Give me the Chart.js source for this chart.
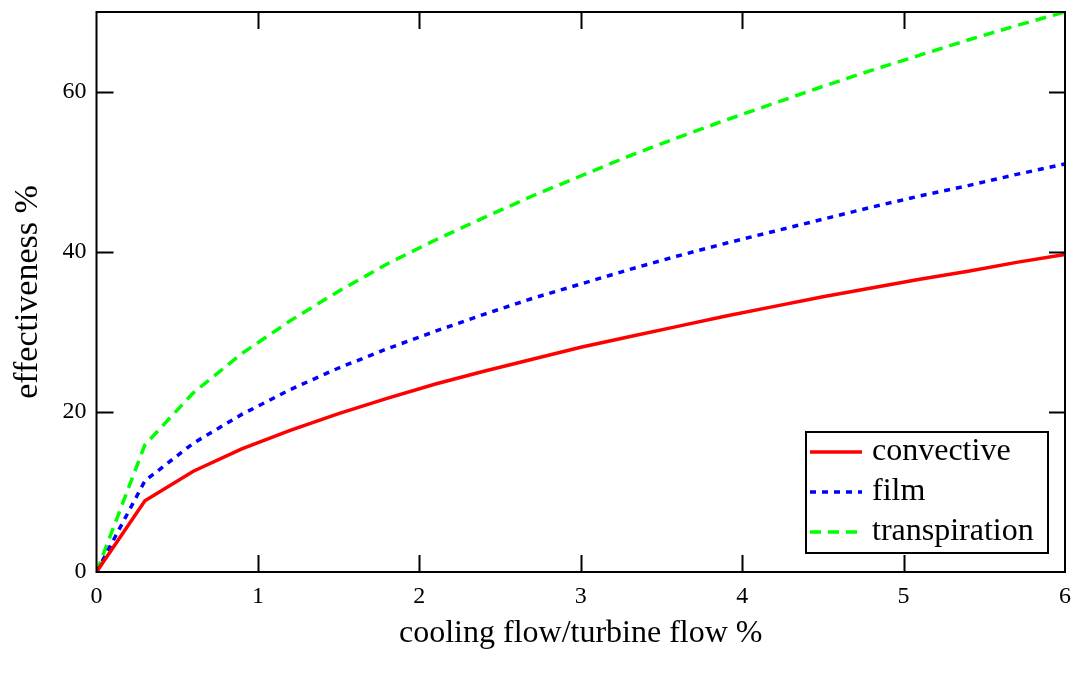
<!DOCTYPE html>
<html>
<head>
<meta charset="utf-8">
<script src="https://cdn.jsdelivr.net/npm/chart.js@4"></script>
<style>
  html, body { margin: 0; padding: 0; background: #fff; }
  #wrap { width: 1078px; height: 675px; }
</style>
</head>
<body>
<div id="wrap"><canvas id="mainChart" width="1078" height="675"></canvas></div>
<script>
// cooling flow / turbine flow %
let flow = [0, 0.3, 0.6, 0.9, 1.2, 1.5, 1.8, 2.1, 2.4, 2.7, 3.0, 3.3, 3.6, 3.9, 4.2, 4.5, 4.8, 5.1, 5.4, 5.7, 6.0];

// effectiveness %
let convective = [0, 8.9, 12.6, 15.4, 17.7, 19.8, 21.7, 23.5, 25.1, 26.6, 28.1, 29.4, 30.7, 32.0, 33.2, 34.4, 35.5, 36.6, 37.6, 38.7, 39.7];
let film = [0, 11.4, 16.1, 19.7, 22.8, 25.5, 27.9, 30.1, 32.2, 34.2, 36.0, 37.8, 39.5, 41.1, 42.6, 44.1, 45.6, 47.0, 48.3, 49.7, 51.0];
let transpiration = [0, 15.9, 22.4, 27.3, 31.4, 35.1, 38.5, 41.5, 44.3, 47.0, 49.5, 52.0, 54.3, 56.5, 58.6, 60.7, 62.7, 64.6, 66.5, 68.3, 70.0];

let xTicks = [0, 1, 2, 3, 4, 5, 6];
let yTicks = [0, 20, 40, 60];

const serif = "'Liberation Serif', 'DejaVu Serif', serif";

function pts(ys) {
    return flow.map((x, i) => ({ x: x, y: ys[i] }));
}

let series = [
    { label: "convective", data: convective, color: "#ff0000", dash: [] },
    { label: "film", data: film, color: "#0000ff", dash: [6, 6] },
    { label: "transpiration", data: transpiration, color: "#00ff00", dash: [11, 7] }
];

// box, inward tick marks and the legend
const frame = {
    id: "frame",
    afterDatasetsDraw(chart) {
        let ctx = chart.ctx;
        let a = chart.chartArea;
        let xs = chart.scales.x, ys = chart.scales.y;
        ctx.save();
        ctx.strokeStyle = "#000";
        ctx.lineWidth = 2;
        ctx.strokeRect(a.left, a.top, a.right - a.left, a.bottom - a.top);

        ctx.beginPath();
        xTicks.slice(1, -1).forEach(v => {
            let px = Math.round(xs.getPixelForValue(v)) + 0.5;
            ctx.moveTo(px, a.bottom); ctx.lineTo(px, a.bottom - 17);
            ctx.moveTo(px, a.top); ctx.lineTo(px, a.top + 17);
        });
        yTicks.slice(1).forEach(v => {
            let py = Math.round(ys.getPixelForValue(v)) + 0.5;
            ctx.moveTo(a.left, py); ctx.lineTo(a.left + 17, py);
            ctx.moveTo(a.right, py); ctx.lineTo(a.right - 16, py);
        });
        ctx.stroke();

        // legend
        let lx = 806, ly = 432, lw = 242, lh = 121;
        ctx.fillStyle = "#fff";
        ctx.fillRect(lx, ly, lw, lh);
        ctx.lineWidth = 2;
        ctx.strokeRect(lx, ly, lw, lh);
        ctx.font = "32px " + serif;
        ctx.textBaseline = "middle";
        series.forEach((s, i) => {
            let cy = ly + 20 + i * 40;
            ctx.beginPath();
            ctx.strokeStyle = s.color;
            ctx.lineWidth = 3.5;
            ctx.setLineDash(s.dash);
            ctx.moveTo(lx + 4, cy);
            ctx.lineTo(lx + 56, cy);
            ctx.stroke();
            ctx.setLineDash([]);
            ctx.fillStyle = "#000";
            ctx.fillText(s.label, lx + 66, cy);
        });
        ctx.restore();
    }
};

new Chart(document.getElementById("mainChart").getContext("2d"), {
    type: "line",
    data: {
        datasets: series.map(s => ({
            label: s.label,
            data: pts(s.data),
            borderColor: s.color,
            borderWidth: 3.5,
            borderDash: s.dash,
            pointRadius: 0,
            tension: 0,
            fill: false
        }))
    },
    options: {
        responsive: false,
        animation: false,
        devicePixelRatio: 1,
        layout: { padding: { top: 12, right: 13, left: 0, bottom: 0 } },
        plugins: { legend: { display: false }, tooltip: { enabled: false } },
        scales: {
            x: {
                type: "linear",
                min: 0, max: 6,
                afterFit: s => { s.height = 103; s.paddingLeft = 0; s.paddingRight = 0; },
                afterBuildTicks: s => { s.ticks = xTicks.map(v => ({ value: v })); },
                grid: { display: false, drawTicks: false },
                border: { display: false },
                ticks: { color: "#000", font: { family: serif, size: 24 }, padding: 10, maxRotation: 0 },
                title: { display: true, text: "cooling flow/turbine flow %", color: "#000",
                    font: { family: serif, size: 32 }, padding: { top: 0, bottom: 22 } }
            },
            y: {
                min: 0, max: 70,
                afterFit: s => { s.width = 96.5; s.paddingTop = 0; s.paddingBottom = 0; },
                afterBuildTicks: s => { s.ticks = yTicks.map(v => ({ value: v })); },
                grid: { display: false, drawTicks: false },
                border: { display: false },
                ticks: { color: "#000", font: { family: serif, size: 24 }, padding: 10 },
                title: { display: true, text: "effectiveness %", color: "#000",
                    font: { family: serif, size: 34 }, padding: { top: 8, bottom: 0 } }
            }
        }
    },
    plugins: [frame]
});
</script>
</body>
</html>
